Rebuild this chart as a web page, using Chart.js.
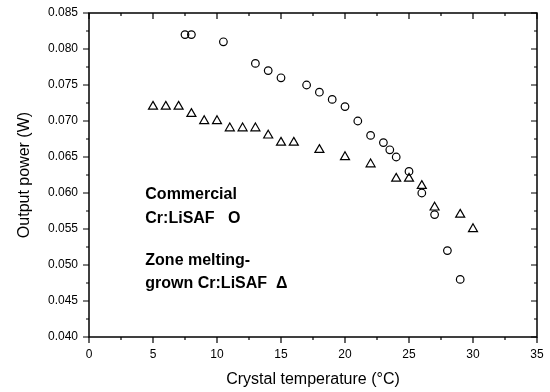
<!DOCTYPE html>
<html>
<head>
<meta charset="utf-8">
<script src="https://cdn.jsdelivr.net/npm/chart.js@4"></script>
<style>
    html, body { margin: 0; padding: 0; background: #fff; }
    #wrap { width: 550px; height: 392px; position: relative; }
</style>
</head>
<body>
<div id="wrap"><canvas id="powerChart"></canvas></div>
<script>
// Commercial Cr:LiSAF (circles)
const commercialTemp = [7.5, 8, 10.5, 13, 14, 15, 17, 18, 19, 20, 21, 22, 23, 23.5, 24, 25, 26, 27, 28, 29];
const commercialPower = [0.082, 0.082, 0.081, 0.078, 0.077, 0.076, 0.075, 0.074, 0.073, 0.072, 0.070, 0.068, 0.067, 0.066, 0.065, 0.063, 0.060, 0.057, 0.052, 0.048];

// Zone melting-grown Cr:LiSAF (triangles)
const zoneTemp = [5, 6, 7, 8, 9, 10, 11, 12, 13, 14, 15, 16, 18, 20, 22, 24, 25, 26, 27, 29, 30];
const zonePower = [0.072, 0.072, 0.072, 0.071, 0.070, 0.070, 0.069, 0.069, 0.069, 0.068, 0.067, 0.067, 0.066, 0.065, 0.064, 0.062, 0.062, 0.061, 0.058, 0.057, 0.055];

// 坐标轴
const xTicks = [0, 5, 10, 15, 20, 25, 30, 35];
const yTicks = [0.040, 0.045, 0.050, 0.055, 0.060, 0.065, 0.070, 0.075, 0.080, 0.085];

const toPoints = (xs, ys) => xs.map((x, i) => ({ x: x, y: ys[i] }));

// 边框和刻度（上/右为内向刻度）
const frameTicks = {
    id: 'frameTicks',
    afterDraw(chart) {
        const ctx = chart.ctx;
        const a = chart.chartArea;
        const xs = chart.scales.x;
        const ys = chart.scales.y;
        ctx.save();
        ctx.strokeStyle = '#000';
        ctx.lineWidth = 1.5;
        ctx.strokeRect(a.left, a.top, a.right - a.left, a.bottom - a.top);
        ctx.lineWidth = 1.2;
        ctx.beginPath();
        for (let v = xTicks[0]; v <= xTicks[xTicks.length - 1] + 1e-9; v += 2.5) {
            const px = xs.getPixelForValue(v);
            const len = Math.abs(v % 5) < 1e-9 ? 6 : 3;
            ctx.moveTo(px, a.bottom); ctx.lineTo(px, a.bottom + len);
            ctx.moveTo(px, a.top); ctx.lineTo(px, a.top + len);
        }
        for (let i = 0; i < yTicks.length; i++) {
            const major = ys.getPixelForValue(yTicks[i]);
            ctx.moveTo(a.left, major); ctx.lineTo(a.left - 6, major);
            ctx.moveTo(a.right, major); ctx.lineTo(a.right - 6, major);
            if (i < yTicks.length - 1) {
                const minor = ys.getPixelForValue((yTicks[i] + yTicks[i + 1]) / 2);
                ctx.moveTo(a.left, minor); ctx.lineTo(a.left - 3, minor);
                ctx.moveTo(a.right, minor); ctx.lineTo(a.right - 3, minor);
            }
        }
        ctx.stroke();

        // 图例文字
        ctx.fillStyle = '#000';
        ctx.font = 'bold 16px "Liberation Sans", Arial, sans-serif';
        ctx.textBaseline = 'alphabetic';
        const tx = xs.getPixelForValue(4.4);
        ctx.fillText('Commercial', tx, ys.getPixelForValue(0.05913));
        ctx.fillText('Cr:LiSAF   O', tx, ys.getPixelForValue(0.05579));
        ctx.fillText('Zone melting-', tx, ys.getPixelForValue(0.0500));
        ctx.fillText('grown Cr:LiSAF  \u0394', tx, ys.getPixelForValue(0.04676));
        ctx.restore();
    }
};

const ctx = document.getElementById('powerChart').getContext('2d');
new Chart(ctx, {
    type: 'scatter',
    data: {
        datasets: [{
            label: 'Commercial Cr:LiSAF',
            data: toPoints(commercialTemp, commercialPower),
            pointStyle: 'circle',
            pointRadius: 3.8,
            borderColor: '#000',
            borderWidth: 1.2,
            backgroundColor: 'rgba(0,0,0,0)'
        }, {
            label: 'Zone melting-grown Cr:LiSAF',
            data: toPoints(zoneTemp, zonePower),
            pointStyle: 'triangle',
            pointRadius: 5.2,
            borderColor: '#000',
            borderWidth: 1.2,
            backgroundColor: 'rgba(0,0,0,0)'
        }]
    },
    options: {
        responsive: true,
        maintainAspectRatio: false,
        animation: false,
        layout: { padding: { top: 13, right: 13, left: 0, bottom: 0 } },
        plugins: {
            legend: { display: false },
            tooltip: { enabled: false }
        },
        scales: {
            x: {
                type: 'linear',
                min: 0,
                max: 35,
                afterBuildTicks: s => { s.ticks = xTicks.map(v => ({ value: v })); },
                afterFit: s => { s.height = 55; s.paddingLeft = 0; s.paddingRight = 0; },
                grid: { display: false, drawTicks: false },
                border: { display: false },
                ticks: {
                    padding: 10,
                    color: '#000',
                    font: { family: '"Liberation Sans", Arial, sans-serif', size: 12 },
                    maxRotation: 0
                },
                title: {
                    display: true,
                    text: 'Crystal temperature (\u00B0C)',
                    color: '#000',
                    font: { family: '"Liberation Sans", Arial, sans-serif', size: 16 },
                    padding: { top: 0, bottom: 3 }
                }
            },
            y: {
                type: 'linear',
                min: 0.040,
                max: 0.085,
                afterBuildTicks: s => { s.ticks = yTicks.map(v => ({ value: v })); },
                afterFit: s => { s.width = 89; s.paddingTop = 0; s.paddingBottom = 0; },
                grid: { display: false, drawTicks: false },
                border: { display: false },
                ticks: {
                    padding: 11,
                    color: '#000',
                    font: { family: '"Liberation Sans", Arial, sans-serif', size: 12 },
                    callback: v => v.toFixed(3)
                },
                title: {
                    display: true,
                    text: 'Output power (W)',
                    color: '#000',
                    font: { family: '"Liberation Sans", Arial, sans-serif', size: 16 },
                    padding: { top: 15, bottom: 0 }
                }
            }
        }
    },
    plugins: [frameTicks]
});
</script>
</body>
</html>
